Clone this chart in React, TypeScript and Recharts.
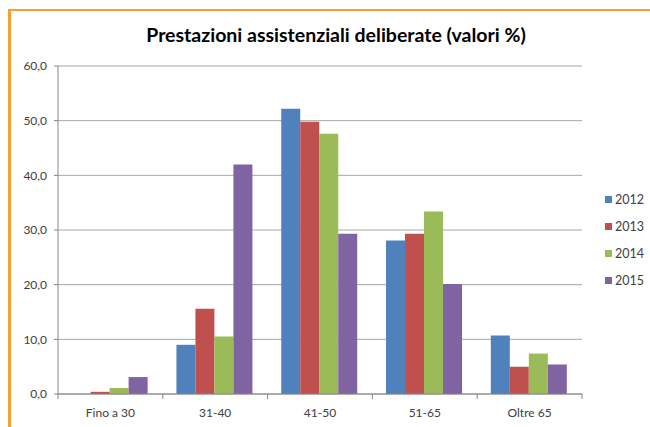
import { BarChart, Bar, XAxis, YAxis, CartesianGrid, Legend } from "recharts";

const categories = ["Fino a 30", "31-40", "41-50", "51-65", "Oltre 65"];
const v2012 = [0, 9.0, 52.2, 28.1, 10.7];
const v2013 = [0.4, 15.6, 49.8, 29.3, 5.0];
const v2014 = [1.1, 10.5, 47.6, 33.4, 7.4];
const v2015 = [3.1, 42.0, 29.3, 20.1, 5.4];
const years = ["2012", "2013", "2014", "2015"];
const yTicks = [0, 10, 20, 30, 40, 50, 60];
const boundaryTicks = [0, 1, 2, 3, 4, 5];

const COLORS = ["#4f81bd", "#c0504d", "#9bbb59", "#8064a2"];
const FONT = "Lato, 'Open Sans', sans-serif";

const data = categories.map((name, i) => ({
  name,
  pos: i + 0.5,
  "2012": v2012[i],
  "2013": v2013[i],
  "2014": v2014[i],
  "2015": v2015[i],
}));

function LegendBox() {
  return (
    <div style={{ paddingLeft: 23 }}>
      {years.map((y, i) => (
        <div
          key={y}
          style={{ display: "flex", alignItems: "center", height: 27, fontSize: 12.5, color: "#404040" }}
        >
          <div
            style={{ width: 7, height: 7, flexShrink: 0, background: COLORS[i], marginRight: 3 }}
          />
          <span>{y}</span>
        </div>
      ))}
    </div>
  );
}

export default function App() {
  return (
    <div
      style={{
        position: "absolute",
        left: 0,
        top: 0,
        width: 650,
        height: 427,
        background: "#fff",
        fontFamily: FONT,
        overflow: "hidden",
      }}
    >
      <div
        style={{
          position: "absolute",
          left: 8,
          top: 9,
          width: 660,
          height: 440,
          borderLeft: "3px solid #f7a030",
          borderTop: "2px solid #f7a030",
        }}
      />
      <div
        style={{
          position: "absolute",
          left: 0,
          width: 672,
          top: 23,
          textAlign: "center",
          fontSize: 19.5,
          fontWeight: 700,
          color: "#000",
        }}
      >
        Prestazioni assistenziali deliberate (valori %)
      </div>
      <BarChart
        width={650}
        height={427}
        data={data}
        barCategoryGap="13%"
        barGap={0}
        margin={{ top: 66, right: 8, left: 8, bottom: 3 }}
      >
        <CartesianGrid vertical={false} stroke="#a6a6a6" />
        {/* numeric helper axis: draws Excel-style ticks between categories */}
        <XAxis
          xAxisId="bounds"
          dataKey="pos"
          type="number"
          domain={[0, 5]}
          allowDataOverflow
          ticks={boundaryTicks}
          interval={0}
          tick={() => <g />}
          height={1}
          axisLine={{ stroke: "#868686" }}
          tickLine={{ stroke: "#868686" }}
          tickSize={5}
        />
        <XAxis
          xAxisId="cat"
          dataKey="name"
          height={29}
          tickLine={false}
          axisLine={false}
          tickMargin={7}
          tick={{ fontSize: 12, fill: "#404040", fontFamily: FONT }}
        />
        <YAxis
          width={50}
          domain={[0, 60]}
          ticks={yTicks}
          axisLine={{ stroke: "#868686" }}
          tickLine={{ stroke: "#868686" }}
          tickSize={4}
          tickMargin={7}
          tickFormatter={(v: number) => v.toFixed(1).replace(".", ",")}
          tick={{ fontSize: 12, fill: "#404040", fontFamily: FONT }}
        />
        <Legend
          layout="vertical"
          align="right"
          verticalAlign="middle"
          wrapperStyle={{ top: 186, width: 60 }}
          content={() => <LegendBox />}
        />
        {years.map((y, i) => (
          <Bar key={y} xAxisId="cat" dataKey={y} fill={COLORS[i]} isAnimationActive={false} />
        ))}
      </BarChart>
    </div>
  );
}
